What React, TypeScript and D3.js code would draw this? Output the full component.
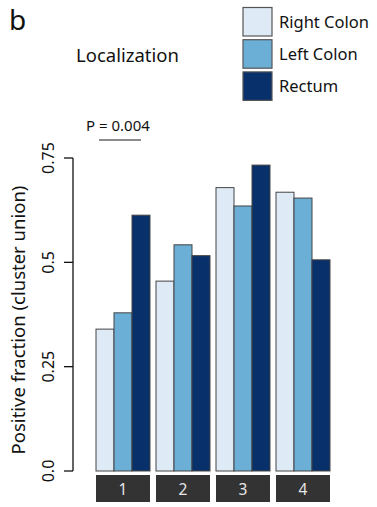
import React, { useEffect, useRef } from 'react';
import * as d3 from 'd3';

const clusters = ['1', '2', '3', '4'];
const locations = ['Right Colon', 'Left Colon', 'Rectum'];
const rightColon = [0.34, 0.455, 0.679, 0.668];
const leftColon = [0.379, 0.542, 0.635, 0.654];
const rectum = [0.613, 0.516, 0.733, 0.506];
const yTicks = [0, 0.25, 0.5, 0.75];
const yTickLabels = ['0.0', '0.25', '0.5', '0.75'];
const colors = ['#deebf7', '#6baed6', '#08306b'];

const W = 377;
const H = 507;
const FONT = '"Noto Sans", "Open Sans", sans-serif';

const App: React.FC = () => {
  const ref = useRef<SVGSVGElement>(null);

  useEffect(() => {
    if (!ref.current) return;
    const svg = d3.select(ref.current);
    svg.selectAll('*').remove();

    const series = [rightColon, leftColon, rectum];
    const y = d3.scaleLinear().domain([0, 0.75]).range([471, 158]);
    const x = d3.scaleBand().domain(clusters).range([93, 333]).paddingInner(0.1).paddingOuter(0.05);
    const xs = d3.scaleBand().domain(locations).range([0, x.bandwidth()]);

    // panel letter + title
    svg.append('text').attr('x', 9).attr('y', 30).text('b')
      .style('font-family', FONT).style('font-size', '28px').attr('fill', '#111');
    svg.append('text').attr('x', 76).attr('y', 62).text('Localization')
      .style('font-family', FONT).style('font-size', '18.5px').attr('fill', '#111');

    // legend
    locations.forEach((loc, i) => {
      svg.append('rect').attr('x', 243).attr('y', 7.5 + i * 32.2).attr('width', 29).attr('height', 28.5)
        .attr('fill', colors[i]).attr('stroke', '#555').attr('stroke-width', 1.2);
      svg.append('text').attr('x', 279).attr('y', 28 + i * 32.2).text(loc)
        .style('font-family', FONT).style('font-size', '16.5px').attr('fill', '#111');
    });

    // p-value
    svg.append('text').attr('x', 86).attr('y', 131).text('P = 0.004')
      .style('font-family', FONT).style('font-size', '15px').attr('fill', '#111');
    svg.append('line').attr('x1', 99).attr('x2', 141).attr('y1', 140).attr('y2', 140)
      .attr('stroke', '#666').attr('stroke-width', 1.3);

    // y axis
    const ax = svg.append('g');
    ax.append('line').attr('x1', 73).attr('x2', 73).attr('y1', y(0.75)).attr('y2', y(0))
      .attr('stroke', '#111').attr('stroke-width', 1.3);
    yTicks.forEach((t, i) => {
      ax.append('line').attr('x1', 64).attr('x2', 73).attr('y1', y(t)).attr('y2', y(t))
        .attr('stroke', '#111').attr('stroke-width', 1.3);
      ax.append('text').attr('transform', `translate(54,${y(t)}) rotate(-90)`)
        .attr('text-anchor', 'middle').text(yTickLabels[i])
        .style('font-family', FONT).style('font-size', '16px').attr('fill', '#111');
    });
    svg.append('text').attr('transform', `translate(25,${(460 + 180) / 2}) rotate(-90)`)
      .attr('text-anchor', 'middle').text('Positive fraction (cluster union)')
      .style('font-family', FONT).style('font-size', '18.5px').attr('fill', '#111');

    // bars
    clusters.forEach((c, ci) => {
      const gx = x(c)!;
      locations.forEach((loc, si) => {
        const v = series[si][ci];
        svg.append('rect').attr('x', gx + xs(loc)!).attr('y', y(v))
          .attr('width', xs.bandwidth()).attr('height', y(0) - y(v))
          .attr('fill', colors[si]).attr('stroke', '#444').attr('stroke-width', 1);
      });
      svg.append('rect').attr('x', gx).attr('y', 475).attr('width', x.bandwidth()).attr('height', 27)
        .attr('fill', '#333');
      svg.append('text').attr('x', gx + x.bandwidth() / 2).attr('y', 494.5).attr('text-anchor', 'middle')
        .text(c).style('font-family', FONT).style('font-size', '15.5px').attr('fill', '#e6e6e6');
    });
  }, []);

  return (
    <svg ref={ref} width={W} height={H}
      style={{ position: 'absolute', left: 0, top: 0, background: '#fff' }} />
  );
};

export default App;
